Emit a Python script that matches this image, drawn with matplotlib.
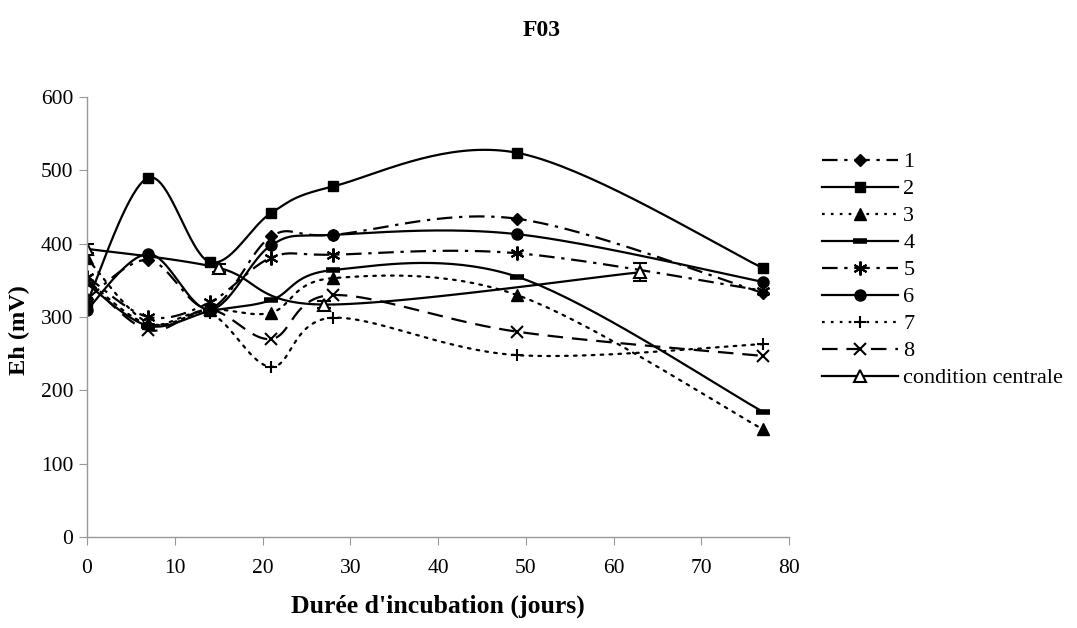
import numpy as np
import matplotlib
matplotlib.use("Agg")
import matplotlib.pyplot as plt
from matplotlib.lines import Line2D

plt.rcParams['font.family'] = ['Liberation Serif', 'DejaVu Serif']

# ---- data ----
days = [0, 7, 14, 21, 28, 49, 77]
s1 = [325, 378, 312, 410, 412, 434, 333]
s2 = [320, 490, 375, 442, 478, 524, 367]
s3 = [380, 292, 310, 306, 353, 330, 147]
s4 = [345, 288, 308, 323, 364, 355, 171]
s5 = [355, 300, 320, 381, 385, 387, 336]
s6 = [310, 386, 310, 398, 412, 413, 348]
s7 = [350, 290, 305, 232, 299, 248, 263]
s8 = [350, 282, 310, 270, 330, 280, 247]
cc_days = [0, 15, 27, 63]
cc_vals = [393, 367, 317, 361]
cc_err = [6, 5, 5, 12]
labels = ['1', '2', '3', '4', '5', '6', '7', '8', 'condition centrale']

x_ticks = [0, 10, 20, 30, 40, 50, 60, 70, 80]
y_ticks = [0, 100, 200, 300, 400, 500, 600]


def smooth(x, y, n=40):
    """Excel-like smoothed line (Bezier with Catmull-Rom control points)."""
    P = np.column_stack([x, y]).astype(float)
    out = []
    m = len(P)
    for i in range(m - 1):
        p0 = P[i - 1] if i > 0 else P[i]
        p1 = P[i]
        p2 = P[i + 1]
        p3 = P[i + 2] if i + 2 < m else P[i + 1]
        c1 = p1 + (p2 - p0) / 6.0
        c2 = p2 - (p3 - p1) / 6.0
        t = np.linspace(0, 1, n)[:, None]
        seg = ((1 - t) ** 3) * p1 + 3 * ((1 - t) ** 2) * t * c1 + 3 * (1 - t) * t ** 2 * c2 + t ** 3 * p2
        out.append(seg if i == 0 else seg[1:])
    pts = np.vstack(out)
    return pts[:, 0], pts[:, 1]


dashdot = (0, (7, 3, 1.5, 3))
dotted = (0, (1.2, 2.8))
dashed = (0, (7, 4))

styles = [
    dict(ls=dashdot, marker='D', ms=6.5, mfc='black', mew=1),
    dict(ls='-', marker='s', ms=7.5, mfc='black', mew=1),
    dict(ls=dotted, marker='^', ms=8, mfc='black', mew=1),
    dict(ls='-', marker='_', ms=10, mfc='black', mew=4),
    dict(ls=dashdot, marker=(6, 2, 0), ms=10, mfc='black', mew=1.5),
    dict(ls='-', marker='o', ms=8, mfc='black', mew=1),
    dict(ls=dotted, marker='+', ms=9, mfc='black', mew=1.5),
    dict(ls=dashed, marker='x', ms=8, mfc='black', mew=1.5),
]
series = [s1, s2, s3, s4, s5, s6, s7, s8]

fig = plt.figure(figsize=(10.77, 6.28), dpi=100)
ax = fig.add_axes([0.0808, 0.1449, 0.6518, 0.7006])

lw = 1.6
for ys, st in zip(series, styles):
    sx, sy = smooth(days, ys)
    ax.plot(sx, sy, color='black', lw=lw, linestyle=st['ls'], dash_capstyle='round' if st['ls'] == dotted else 'butt')
    ax.plot(days, ys, linestyle='none', marker=st['marker'], ms=st['ms'],
            mfc=st['mfc'], mec='black', mew=st['mew'], color='black')

# condition centrale
sx, sy = smooth(cc_days, cc_vals)
ax.plot(sx, sy, color='black', lw=lw)
ax.errorbar(cc_days, cc_vals, yerr=cc_err, fmt='none', ecolor='black', elinewidth=1.2, capsize=5, capthick=1.5)
ax.plot(cc_days, cc_vals, linestyle='none', marker='^', ms=8, mfc='white', mec='black', mew=1.5)

ax.set_xlim(0, 80)
ax.set_ylim(0, 600)
ax.set_xticks(x_ticks)
ax.set_yticks(y_ticks)
ax.tick_params(axis='both', direction='out', length=6, color='#999999', labelsize=15.5)
ax.tick_params(axis='x', pad=10)
ax.tick_params(axis='y', pad=4)
for sp in ['top', 'right']:
    ax.spines[sp].set_visible(False)
for sp in ['left', 'bottom']:
    ax.spines[sp].set_color('#999999')
    ax.spines[sp].set_linewidth(1.0)

ax.set_xlabel("Durée d'incubation (jours)", fontsize=18.5, fontweight='bold', labelpad=12)
ax.set_ylabel("Eh (mV)", fontsize=17.5, fontweight='bold')
ax.yaxis.set_label_coords(-0.081, 0.47)
fig.text(0.503, 0.952, 'F03', ha='center', va='center', fontsize=17, fontweight='bold')

# legend
handles = []
for st in styles:
    handles.append(Line2D([], [], color='black', lw=lw, linestyle=st['ls'], marker=st['marker'],
                          ms=st['ms'], mfc=st['mfc'], mec='black', mew=st['mew']))
handles.append(Line2D([], [], color='black', lw=lw, linestyle='-', marker='^', ms=8,
                      mfc='white', mec='black', mew=1.5))
fig.legend(handles, labels, loc='upper left', bbox_to_anchor=(0.753, 0.776), frameon=False,
           fontsize=16, handlelength=3.4, handletextpad=0.25, labelspacing=0.29, borderpad=0)

fig.savefig('out.png', dpi=100)
